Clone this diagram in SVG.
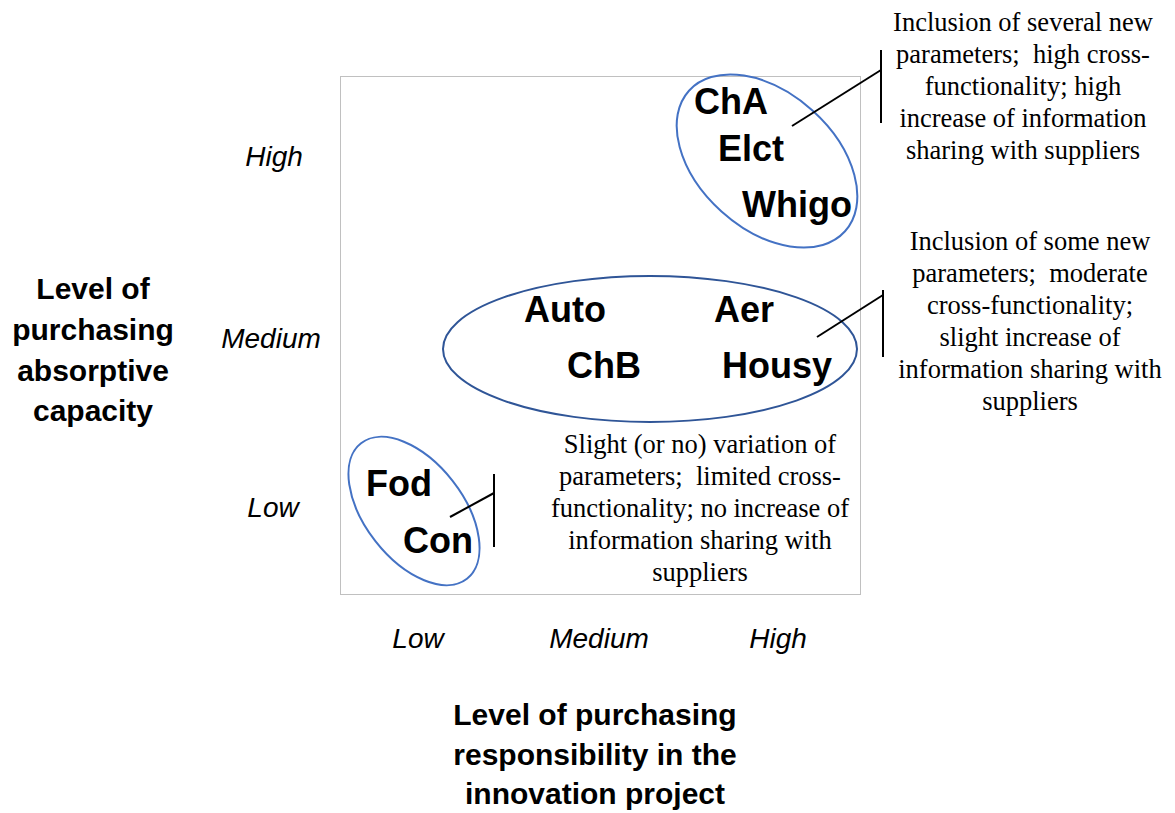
<svg xmlns="http://www.w3.org/2000/svg" width="1175" height="813" viewBox="0 0 1175 813">
<style>
.ax{font-family:"Liberation Sans",Arial,sans-serif;font-style:italic;font-size:28px;fill:#000;text-anchor:middle}
.ttl{font-family:"Liberation Sans",Arial,sans-serif;font-weight:bold;font-size:30px;fill:#000;text-anchor:middle}
.it{font-family:"Liberation Sans",Arial,sans-serif;font-weight:bold;font-size:36px;fill:#000}
.nt{font-family:"Liberation Serif","Times New Roman",serif;font-size:26.5px;fill:#000;text-anchor:middle;white-space:pre}
.ell{fill:none;stroke:#4472c4;stroke-width:2}
.ell2{fill:none;stroke:#2f5597;stroke-width:2}
.con{stroke:#000;stroke-width:2;fill:none}
</style>
<rect width="1175" height="813" fill="#fff"/>
<g id="frame">
<rect x="340.5" y="76.5" width="520" height="518" fill="none" stroke="#c0c0c0" stroke-width="1"/>
</g>
<g id="y-axis">
<text class="ax" x="274" y="166">High</text>
<text class="ax" x="271" y="348">Medium</text>
<text class="ax" x="273" y="517">Low</text>
<text class="ttl"><tspan x="93" y="299">Level of</tspan><tspan x="93" y="340">purchasing</tspan><tspan x="93" y="381">absorptive</tspan><tspan x="93" y="421">capacity</tspan></text>
</g>
<g id="x-axis">
<text class="ax" x="418" y="648">Low</text>
<text class="ax" x="599" y="648">Medium</text>
<text class="ax" x="778" y="648">High</text>
<text class="ttl"><tspan x="595" y="725">Level of purchasing</tspan><tspan x="595" y="765">responsibility in the</tspan><tspan x="595" y="804">innovation project</tspan></text>
</g>
<g id="cluster-high">
<ellipse class="ell" cx="767" cy="161" rx="105" ry="68" transform="rotate(42 767 161)"/>
<text class="it" x="694" y="114">ChA</text>
<text class="it" x="718" y="161">Elct</text>
<text class="it" x="742" y="217">Whigo</text>
</g>
<g id="cluster-medium">
<ellipse class="ell2" cx="650" cy="349" rx="207" ry="73"/>
<text class="it" x="524" y="322">Auto</text>
<text class="it" x="714" y="322">Aer</text>
<text class="it" x="567" y="378">ChB</text>
<text class="it" x="722" y="378">Housy</text>
</g>
<g id="cluster-low">
<ellipse class="ell" cx="414" cy="511" rx="86" ry="49" transform="rotate(52 414 511)"/>
<text class="it" x="366" y="496">Fod</text>
<text class="it" x="403" y="553">Con</text>
</g>
<g id="note-high">
<text class="nt"><tspan x="1023" y="31">Inclusion of several new</tspan><tspan x="1023" y="63">parameters;  high cross-</tspan><tspan x="1023" y="95">functionality; high</tspan><tspan x="1023" y="127">increase of information</tspan><tspan x="1023" y="159">sharing with suppliers</tspan></text>
</g>
<g id="note-medium">
<text class="nt"><tspan x="1030" y="250">Inclusion of some new</tspan><tspan x="1030" y="282">parameters;  moderate</tspan><tspan x="1030" y="314">cross-functionality;</tspan><tspan x="1030" y="346">slight increase of</tspan><tspan x="1030" y="378">information sharing with</tspan><tspan x="1030" y="410">suppliers</tspan></text>
</g>
<g id="note-low">
<text class="nt"><tspan x="700" y="453">Slight (or no) variation of</tspan><tspan x="700" y="485">parameters;  limited cross-</tspan><tspan x="700" y="517">functionality; no increase of</tspan><tspan x="700" y="549">information sharing with</tspan><tspan x="700" y="581">suppliers</tspan></text>
</g>
<g id="connectors">
<line class="con" x1="881" y1="50" x2="881" y2="123"/>
<line class="con" x1="792" y1="126" x2="881" y2="70"/>
<line class="con" x1="883" y1="290" x2="883" y2="357"/>
<line class="con" x1="817" y1="337" x2="883" y2="295"/>
<line class="con" x1="494" y1="474" x2="494" y2="547"/>
<line class="con" x1="450" y1="517" x2="494" y2="493"/>
</g>
</svg>
